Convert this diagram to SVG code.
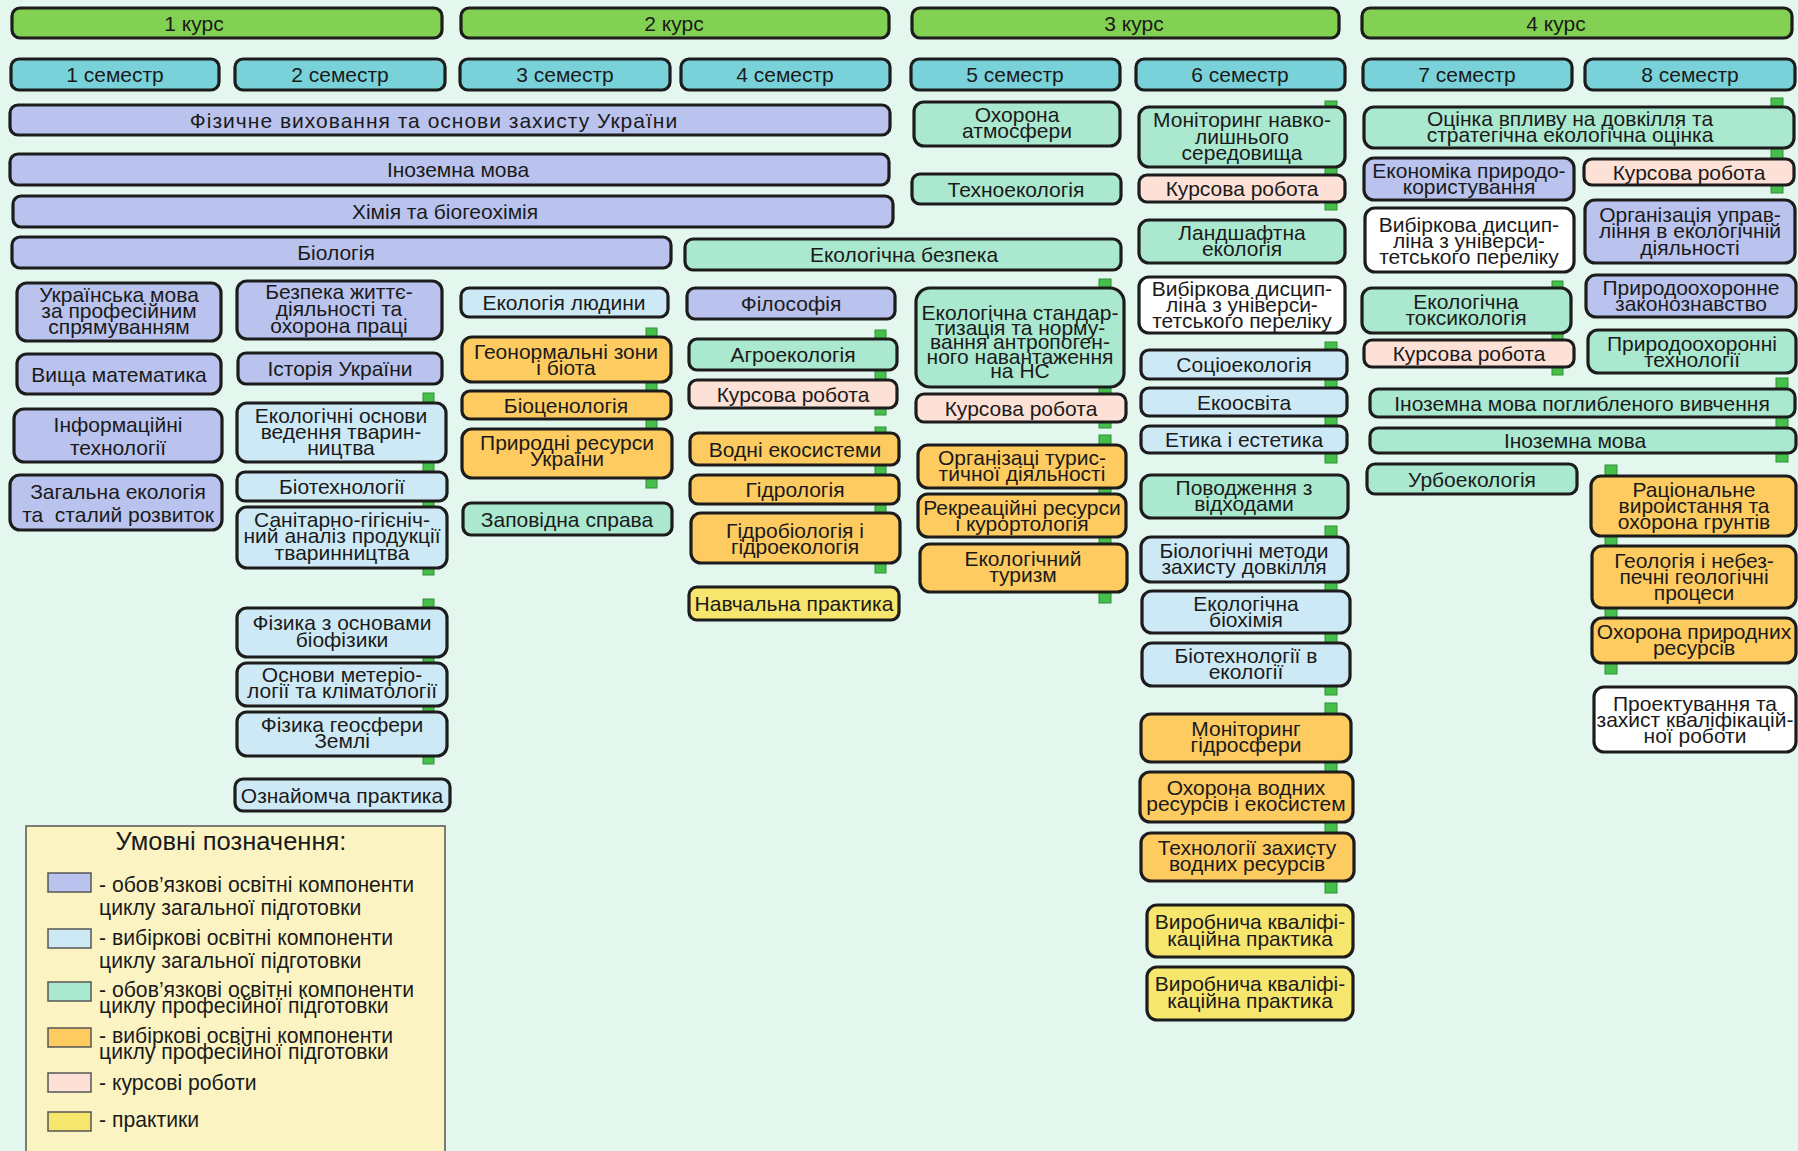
<svg xmlns="http://www.w3.org/2000/svg" width="1798" height="1151" viewBox="0 0 1798 1151">
<style>
.b{stroke:#1c1c1c;stroke-width:3.2}
.kurs{fill:#82d152}.sem{fill:#79d2da}.lav{fill:#b9c3ee}.lb{fill:#cee9f6}.mint{fill:#aae8cf}.or{fill:#fdcb60}.pk{fill:#fde1d6}.ye{fill:#f7e66e}.wh{fill:#ffffff}
text{font-family:"Liberation Sans",Arial,sans-serif;font-size:21px;fill:#1a1a1a;text-anchor:middle}
.tab{fill:#45bf4a;stroke:#2f8f3a;stroke-width:1}
.lg{font-size:21.2px;text-anchor:start}
.lgt{font-size:25.5px}
.sw{stroke:#555;stroke-width:1.5}
</style>
<rect x="0" y="0" width="1798" height="1151" fill="#e4f7ee"/>

<g id="connectors">
<rect class="tab" x="423" y="393" width="11" height="182"/>
<rect class="tab" x="423" y="599" width="11" height="165"/>
<rect class="tab" x="646" y="328" width="11" height="160"/>
<rect class="tab" x="875" y="330" width="11" height="85"/>
<rect class="tab" x="875" y="427" width="11" height="146"/>
<rect class="tab" x="1099" y="279" width="12" height="149"/>
<rect class="tab" x="1099" y="435" width="12" height="168"/>
<rect class="tab" x="1325" y="101" width="12" height="109"/>
<rect class="tab" x="1325" y="342" width="12" height="121"/>
<rect class="tab" x="1325" y="526" width="12" height="169"/>
<rect class="tab" x="1325" y="703" width="12" height="190"/>
<rect class="tab" x="1771" y="98" width="12" height="95"/>
<rect class="tab" x="1552" y="281" width="11" height="94"/>
<rect class="tab" x="1776" y="378" width="12" height="84"/>
<rect class="tab" x="1605" y="465" width="12" height="209"/>
</g>

<!-- courses -->
<g id="kurs1"><rect class="b kurs" x="12" y="8" width="430" height="30" rx="8"/><text x="194" y="30.5">1 курс</text></g>
<g id="kurs2"><rect class="b kurs" x="461" y="8" width="428" height="30" rx="8"/><text x="674" y="30.5">2 курс</text></g>
<g id="kurs3"><rect class="b kurs" x="912" y="8" width="427" height="30" rx="8"/><text x="1134" y="30.5">3 курс</text></g>
<g id="kurs4"><rect class="b kurs" x="1362" y="8" width="430" height="30" rx="8"/><text x="1556" y="30.5">4 курс</text></g>

<!-- semesters -->
<g id="sem1"><rect class="b sem" x="11" y="59" width="208" height="31" rx="8"/><text x="115" y="82">1 семестр</text></g>
<g id="sem2"><rect class="b sem" x="235" y="59" width="210" height="31" rx="8"/><text x="340" y="82">2 семестр</text></g>
<g id="sem3"><rect class="b sem" x="460" y="59" width="210" height="31" rx="8"/><text x="565" y="82">3 семестр</text></g>
<g id="sem4"><rect class="b sem" x="681" y="59" width="209" height="31" rx="8"/><text x="785" y="82">4 семестр</text></g>
<g id="sem5"><rect class="b sem" x="911" y="59" width="209" height="31" rx="8"/><text x="1015" y="82">5 семестр</text></g>
<g id="sem6"><rect class="b sem" x="1136" y="59" width="209" height="31" rx="8"/><text x="1240" y="82">6 семестр</text></g>
<g id="sem7"><rect class="b sem" x="1363" y="59" width="209" height="31" rx="8"/><text x="1467" y="82">7 семестр</text></g>
<g id="sem8"><rect class="b sem" x="1585" y="59" width="210" height="31" rx="8"/><text x="1690" y="82">8 семестр</text></g>

<!-- long bars -->
<g id="fizvykh"><rect class="b lav" x="10" y="105" width="880" height="30" rx="8"/><text x="434" y="127.5" letter-spacing="1">Фізичне виховання та основи захисту України</text></g>
<g id="inozem"><rect class="b lav" x="10" y="154" width="879" height="31" rx="8"/><text x="458" y="177">Іноземна мова</text></g>
<g id="khimiya"><rect class="b lav" x="13" y="196" width="880" height="31" rx="8"/><text x="445" y="219">Хімія та біогеохімія</text></g>
<g id="biologiya"><rect class="b lav" x="12" y="237" width="659" height="31" rx="8"/><text x="336" y="260">Біологія</text></g>
<g id="ekbezpeka"><rect class="b mint" x="685" y="239" width="436" height="31" rx="8"/><text x="904" y="262">Екологічна безпека</text></g>

<!-- column 1 -->
<g id="ukrmova"><rect class="b lav" x="17" y="283" width="204" height="58" rx="10"/><text x="119"><tspan x="119" y="302">Українська мова</tspan><tspan x="119" y="318">за професійним</tspan><tspan x="119" y="334">спрямуванням</tspan></text></g>
<g id="vyshmat"><rect class="b lav" x="17" y="354" width="204" height="40" rx="10"/><text x="119" y="381.5">Вища математика</text></g>
<g id="inform"><rect class="b lav" x="14" y="409" width="208" height="53" rx="10"/><text x="118"><tspan x="118" y="432">Інформаційні</tspan><tspan x="118" y="455">технології</tspan></text></g>
<g id="zahekol"><rect class="b lav" x="10" y="475" width="212" height="55" rx="10"/><text x="118" xml:space="preserve"><tspan x="118" y="499">Загальна екологія</tspan><tspan x="118" y="522">та  сталий розвиток</tspan></text></g>

<!-- column 2 -->
<g id="bezpeka"><rect class="b lav" x="237" y="281" width="205" height="58" rx="10"/><text x="339"><tspan x="339" y="299">Безпека життє-</tspan><tspan x="339" y="316">діяльності та</tspan><tspan x="339" y="333">охорона праці</tspan></text></g>
<g id="istoriya"><rect class="b lav" x="238" y="353" width="204" height="31" rx="8"/><text x="340" y="376">Історія України</text></g>
<g id="ekosnovy"><rect class="b lb" x="237" y="403" width="209" height="59" rx="10"/><text x="341"><tspan x="341" y="423">Екологічні основи</tspan><tspan x="341" y="439">ведення тварин-</tspan><tspan x="341" y="455">ництва</tspan></text></g>
<g id="biotekh"><rect class="b lb" x="237" y="472" width="210" height="29" rx="8"/><text x="342" y="494">Біотехнології</text></g>
<g id="sanit"><rect class="b lb" x="237" y="507" width="210" height="61" rx="10"/><text x="342"><tspan x="342" y="527">Санітарно-гігієніч-</tspan><tspan x="342" y="543">ний аналіз продукції</tspan><tspan x="342" y="560">тваринництва</tspan></text></g>
<g id="fizbio"><rect class="b lb" x="237" y="608" width="210" height="49" rx="10"/><text x="342"><tspan x="342" y="630">Фізика з основами</tspan><tspan x="342" y="647">біофізики</tspan></text></g>
<g id="meteo"><rect class="b lb" x="237" y="663" width="210" height="43" rx="10"/><text x="342"><tspan x="342" y="682">Основи метеріо-</tspan><tspan x="342" y="698">логії та кліматології</tspan></text></g>
<g id="geosf"><rect class="b lb" x="237" y="712" width="210" height="44" rx="10"/><text x="342"><tspan x="342" y="732">Фізика геосфери</tspan><tspan x="342" y="748">Землі</tspan></text></g>
<g id="oznay"><rect class="b lb" x="235" y="779" width="215" height="32" rx="8"/><text x="342" y="802.5">Ознайомча практика</text></g>

<!-- column 3 -->
<g id="ekolyud"><rect class="b lb" x="461" y="288" width="207" height="29" rx="8"/><text x="564" y="310">Екологія людини</text></g>
<g id="geonorm"><rect class="b or" x="462" y="337" width="209" height="45" rx="10"/><text x="566"><tspan x="566" y="359">Геонормальні зони</tspan><tspan x="566" y="375">і біота</tspan></text></g>
<g id="biotsen"><rect class="b or" x="462" y="391" width="209" height="28" rx="8"/><text x="566" y="412.5">Біоценологія</text></g>
<g id="pryrres"><rect class="b or" x="462" y="429" width="210" height="49" rx="10"/><text x="567"><tspan x="567" y="450">Природні ресурси</tspan><tspan x="567" y="466">України</tspan></text></g>
<g id="zapov"><rect class="b mint" x="463" y="503" width="209" height="32" rx="8"/><text x="567" y="526.5">Заповідна справа</text></g>

<!-- column 4 -->
<g id="filos"><rect class="b lav" x="687" y="288" width="208" height="31" rx="8"/><text x="791" y="311">Філософія</text></g>
<g id="agro"><rect class="b mint" x="689" y="339" width="208" height="31" rx="8"/><text x="793" y="362">Агроекологія</text></g>
<g id="kurs4r"><rect class="b pk" x="689" y="380" width="208" height="28" rx="8"/><text x="793" y="401.5">Курсова робота</text></g>
<g id="vodni"><rect class="b or" x="690" y="433" width="209" height="32" rx="8"/><text x="795" y="456.5">Водні екосистеми</text></g>
<g id="hidrol"><rect class="b or" x="690" y="475" width="209" height="29" rx="8"/><text x="795" y="497">Гідрологія</text></g>
<g id="hidrob"><rect class="b or" x="691" y="513" width="209" height="50" rx="10"/><text x="795"><tspan x="795" y="537.5">Гідробіологія і</tspan><tspan x="795" y="553.5">гідроекологія</tspan></text></g>
<g id="navch"><rect class="b ye" x="689" y="587" width="210" height="33" rx="8"/><text x="794" y="611">Навчальна практика</text></g>

<!-- column 5 -->
<g id="ohatm"><rect class="b mint" x="914" y="102" width="206" height="44" rx="10"/><text x="1017"><tspan x="1017" y="122">Охорона</tspan><tspan x="1017" y="138">атмосфери</tspan></text></g>
<g id="tekhno"><rect class="b mint" x="912" y="174" width="209" height="30" rx="8"/><text x="1016" y="196.5">Техноекологія</text></g>
<g id="standart"><rect class="b mint" x="916" y="288" width="208" height="99" rx="14"/><text x="1020"><tspan x="1020" y="320">Екологічна стандар-</tspan><tspan x="1020" y="334.5">тизація та норму-</tspan><tspan x="1020" y="349">вання антропоген-</tspan><tspan x="1020" y="363.5">ного навантаження</tspan><tspan x="1020" y="378">на НС</tspan></text></g>
<g id="kurs5r"><rect class="b pk" x="916" y="394" width="210" height="28" rx="8"/><text x="1021" y="415.5">Курсова робота</text></g>
<g id="orgtur"><rect class="b or" x="918" y="445" width="208" height="43" rx="10"/><text x="1022"><tspan x="1022" y="465">Організаці турис-</tspan><tspan x="1022" y="481">тичної діяльності</tspan></text></g>
<g id="rekr"><rect class="b or" x="918" y="494" width="208" height="43" rx="10"/><text x="1022"><tspan x="1022" y="515">Рекреаційні ресурси</tspan><tspan x="1022" y="531">і курортологія</tspan></text></g>
<g id="ekotur"><rect class="b or" x="920" y="544" width="207" height="48" rx="10"/><text x="1023"><tspan x="1023" y="566">Екологічний</tspan><tspan x="1023" y="582">туризм</tspan></text></g>

<!-- column 6 -->
<g id="monnavk"><rect class="b mint" x="1139" y="107" width="206" height="60" rx="10"/><text x="1242"><tspan x="1242" y="127">Моніторинг навко-</tspan><tspan x="1242" y="144">лишнього</tspan><tspan x="1242" y="160">середовища</tspan></text></g>
<g id="kurs6r"><rect class="b pk" x="1139" y="175" width="206" height="27" rx="8"/><text x="1242" y="196">Курсова робота</text></g>
<g id="landsh"><rect class="b mint" x="1139" y="220" width="206" height="43" rx="10"/><text x="1242"><tspan x="1242" y="240">Ландшафтна</tspan><tspan x="1242" y="256">екологія</tspan></text></g>
<g id="vybir6"><rect class="b wh" x="1139" y="277" width="206" height="56" rx="10"/><text x="1242"><tspan x="1242" y="296">Вибіркова дисцип-</tspan><tspan x="1242" y="312">ліна з універси-</tspan><tspan x="1242" y="328">тетського переліку</tspan></text></g>
<g id="sotsio"><rect class="b lb" x="1141" y="350" width="206" height="29" rx="8"/><text x="1244" y="372">Соціоекологія</text></g>
<g id="ekoosv"><rect class="b lb" x="1141" y="388" width="206" height="28" rx="8"/><text x="1244" y="409.5">Екоосвіта</text></g>
<g id="etyka"><rect class="b lb" x="1141" y="426" width="206" height="27" rx="8"/><text x="1244" y="447">Етика і естетика</text></g>
<g id="povodzh"><rect class="b mint" x="1141" y="475" width="207" height="43" rx="10"/><text x="1244"><tspan x="1244" y="495">Поводження з</tspan><tspan x="1244" y="511">відходами</tspan></text></g>
<g id="biolmet"><rect class="b lb" x="1141" y="537" width="207" height="45" rx="10"/><text x="1244"><tspan x="1244" y="558">Біологічні методи</tspan><tspan x="1244" y="574">захисту довкілля</tspan></text></g>
<g id="ekbioch"><rect class="b lb" x="1142" y="591" width="208" height="42" rx="10"/><text x="1246"><tspan x="1246" y="611">Екологічна</tspan><tspan x="1246" y="627">біохімія</tspan></text></g>
<g id="biotekhekol"><rect class="b lb" x="1142" y="643" width="208" height="43" rx="10"/><text x="1246"><tspan x="1246" y="663">Біотехнології в</tspan><tspan x="1246" y="679">екології</tspan></text></g>
<g id="monhidr"><rect class="b or" x="1141" y="714" width="210" height="48" rx="10"/><text x="1246"><tspan x="1246" y="736">Моніторинг</tspan><tspan x="1246" y="752">гідросфери</tspan></text></g>
<g id="ohvod"><rect class="b or" x="1140" y="772" width="213" height="50" rx="10"/><text x="1246"><tspan x="1246" y="795">Охорона водних</tspan><tspan x="1246" y="811">ресурсів і екосистем</tspan></text></g>
<g id="tekhzakh"><rect class="b or" x="1141" y="833" width="213" height="48" rx="10"/><text x="1247"><tspan x="1247" y="855">Технології захисту</tspan><tspan x="1247" y="871">водних ресурсів</tspan></text></g>
<g id="vyr1"><rect class="b ye" x="1147" y="905" width="206" height="52" rx="10"/><text x="1250"><tspan x="1250" y="929">Виробнича кваліфі-</tspan><tspan x="1250" y="946">каційна практика</tspan></text></g>
<g id="vyr2"><rect class="b ye" x="1147" y="967" width="206" height="53" rx="10"/><text x="1250"><tspan x="1250" y="991">Виробнича кваліфі-</tspan><tspan x="1250" y="1008">каційна практика</tspan></text></g>

<!-- columns 7-8 -->
<g id="otsinka"><rect class="b mint" x="1364" y="107" width="430" height="41" rx="10"/><text x="1570"><tspan x="1570" y="126">Оцінка впливу на довкілля та</tspan><tspan x="1570" y="142">стратегічна екологічна оцінка</tspan></text></g>
<g id="ekonom"><rect class="b lav" x="1364" y="158" width="210" height="42" rx="10"/><text x="1469"><tspan x="1469" y="178">Економіка природо-</tspan><tspan x="1469" y="194">користування</tspan></text></g>
<g id="kurs8r"><rect class="b pk" x="1584" y="159" width="210" height="26" rx="8"/><text x="1689" y="179.5">Курсова робота</text></g>
<g id="vybir7"><rect class="b wh" x="1365" y="208" width="209" height="64" rx="10"/><text x="1469"><tspan x="1469" y="232">Вибіркова дисцип-</tspan><tspan x="1469" y="248">ліна з універси-</tspan><tspan x="1469" y="264">тетського переліку</tspan></text></g>
<g id="orgupr"><rect class="b lav" x="1585" y="200" width="210" height="63" rx="10"/><text x="1690"><tspan x="1690" y="222">Організація управ-</tspan><tspan x="1690" y="238">ління в екологічній</tspan><tspan x="1690" y="255">діяльності</tspan></text></g>
<g id="zakon"><rect class="b lav" x="1586" y="275" width="210" height="42" rx="10"/><text x="1691"><tspan x="1691" y="295">Природоохоронне</tspan><tspan x="1691" y="311">законознавство</tspan></text></g>
<g id="toksyk"><rect class="b mint" x="1362" y="288" width="209" height="45" rx="10"/><text x="1466"><tspan x="1466" y="309">Екологічна</tspan><tspan x="1466" y="325">токсикологія</tspan></text></g>
<g id="kurs7r"><rect class="b pk" x="1364" y="340" width="210" height="27" rx="8"/><text x="1469" y="361">Курсова робота</text></g>
<g id="prtekh"><rect class="b mint" x="1588" y="330" width="208" height="43" rx="10"/><text x="1692"><tspan x="1692" y="351">Природоохоронні</tspan><tspan x="1692" y="367">технології</tspan></text></g>
<g id="inpogl"><rect class="b mint" x="1370" y="389" width="425" height="28" rx="8"/><text x="1582" y="410.5">Іноземна мова поглибленого вивчення</text></g>
<g id="ino4"><rect class="b mint" x="1370" y="428" width="426" height="25" rx="8"/><text x="1575" y="448">Іноземна мова</text></g>
<g id="urbo"><rect class="b mint" x="1367" y="464" width="210" height="30" rx="8"/><text x="1472" y="486.5">Урбоекологія</text></g>
<g id="ratsion"><rect class="b or" x="1591" y="476" width="205" height="60" rx="10"/><text x="1694"><tspan x="1694" y="497">Раціональне</tspan><tspan x="1694" y="513">вироистання та</tspan><tspan x="1694" y="529">охорона грунтів</tspan></text></g>
<g id="geol"><rect class="b or" x="1592" y="546" width="204" height="62" rx="10"/><text x="1694"><tspan x="1694" y="568">Геологія і небез-</tspan><tspan x="1694" y="584">печні геологічні</tspan><tspan x="1694" y="600">процеси</tspan></text></g>
<g id="ohpryr"><rect class="b or" x="1592" y="618" width="204" height="45" rx="10"/><text x="1694"><tspan x="1694" y="639">Охорона природних</tspan><tspan x="1694" y="655">ресурсів</tspan></text></g>
<g id="proekt"><rect class="b wh" x="1594" y="687" width="202" height="65" rx="10"/><text x="1695"><tspan x="1695" y="711">Проектування та</tspan><tspan x="1695" y="727">захист кваліфікацій-</tspan><tspan x="1695" y="743">ної роботи</tspan></text></g>

<!-- legend -->
<g id="legend">
<rect x="26" y="826" width="419" height="340" fill="#fbf4c2" stroke="#555" stroke-width="1.5"/>
<text class="lgt" x="231" y="850">Умовні позначення:</text>
<rect class="sw lav" x="48" y="873" width="43" height="19"/>
<text class="lg" x="99" y="892">- обов’язкові освітні компоненти</text>
<text class="lg" x="99" y="915">циклу загальної підготовки</text>
<rect class="sw lb" x="48" y="929" width="43" height="19"/>
<text class="lg" x="99" y="945">- вибіркові освітні компоненти</text>
<text class="lg" x="99" y="968">циклу загальної підготовки</text>
<rect class="sw mint" x="48" y="982" width="43" height="19"/>
<text class="lg" x="99" y="997">- обов’язкові освітні компоненти</text>
<text class="lg" x="99" y="1013">циклу професійної підготовки</text>
<rect class="sw or" x="48" y="1028" width="43" height="19"/>
<text class="lg" x="99" y="1043">- вибіркові освітні компоненти</text>
<text class="lg" x="99" y="1059">циклу професійної підготовки</text>
<rect class="sw pk" x="48" y="1073" width="43" height="19"/>
<text class="lg" x="99" y="1090">- курсові роботи</text>
<rect class="sw ye" x="48" y="1112" width="43" height="19"/>
<text class="lg" x="99" y="1127">- практики</text>
</g>
</svg>
